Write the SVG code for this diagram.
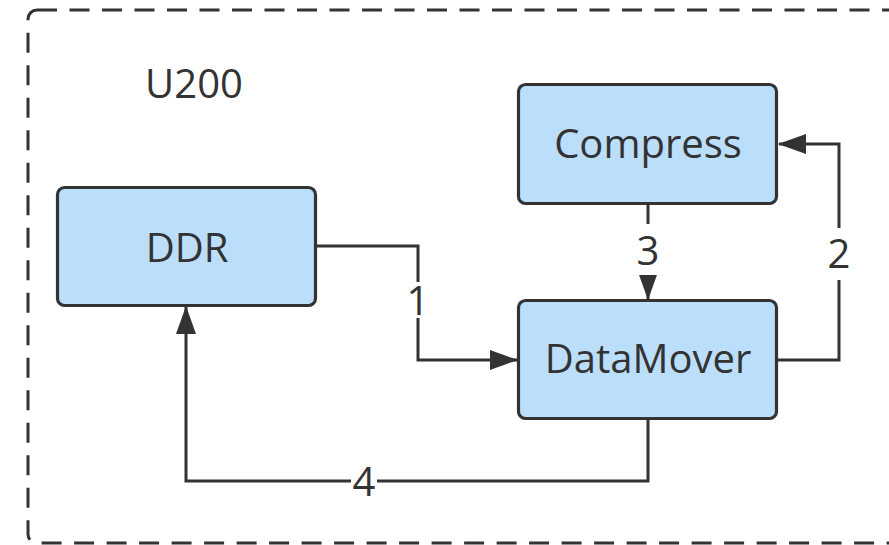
<svg xmlns="http://www.w3.org/2000/svg" width="889" height="545" viewBox="0 0 889 545">
<defs>
<style>
.box{fill:#bbdefb;stroke:#333333;stroke-width:3.2}
.txt{font-family:"Open Sans","Liberation Sans",sans-serif;font-size:40px;fill:#333333;text-anchor:middle}
.lbl{font-family:"Open Sans","Liberation Sans",sans-serif;font-size:40px;fill:#333333;text-anchor:middle}
.edge{fill:none;stroke:#333333;stroke-width:3}
.bg{fill:#ffffff}
</style>
<marker id="arr" viewBox="0 0 28 20" refX="27" refY="10" markerWidth="28" markerHeight="20" markerUnits="userSpaceOnUse" orient="auto">
<path d="M0,0 L28,10 L0,20 Z" fill="#333333"/>
</marker>
</defs>
<rect width="889" height="545" fill="#ffffff"/>
<g id="container">
<rect x="28" y="10" width="880" height="533" rx="9" fill="none" stroke="#333333" stroke-width="3" stroke-dasharray="20 12.5"/>
<text class="txt" x="194" y="98">U200</text>
</g>
<g id="connectors">
<path class="edge" d="M316,246 H418 V360 H517" marker-end="url(#arr)"/>
<path class="edge" d="M778,360 H839 V144 H779" marker-end="url(#arr)"/>
<path class="edge" d="M648,205 V299" marker-end="url(#arr)"/>
<path class="edge" d="M648,420 V481 H186 V307" marker-end="url(#arr)"/>
<rect class="bg" x="405" y="282" width="26" height="36"/>
<text class="lbl" x="418" y="315">1</text>
<rect class="bg" x="826" y="228" width="26" height="52"/>
<text class="lbl" x="839" y="268">2</text>
<rect class="bg" x="635" y="224" width="26" height="51"/>
<text class="lbl" x="648" y="265">3</text>
<rect class="bg" x="351" y="466" width="26" height="30"/>
<text class="lbl" x="364" y="496">4</text>
</g>
<g id="ddr">
<rect class="box" x="57.5" y="187.5" width="258" height="118" rx="7"/>
<text class="txt" x="187" y="262">DDR</text>
</g>
<g id="compress">
<rect class="box" x="518.5" y="84.5" width="258" height="119" rx="7"/>
<text class="txt" x="648" y="158">Compress</text>
</g>
<g id="datamover">
<rect class="box" x="518.5" y="300.5" width="258" height="118" rx="7"/>
<text class="txt" x="648" y="373">DataMover</text>
</g>
</svg>
